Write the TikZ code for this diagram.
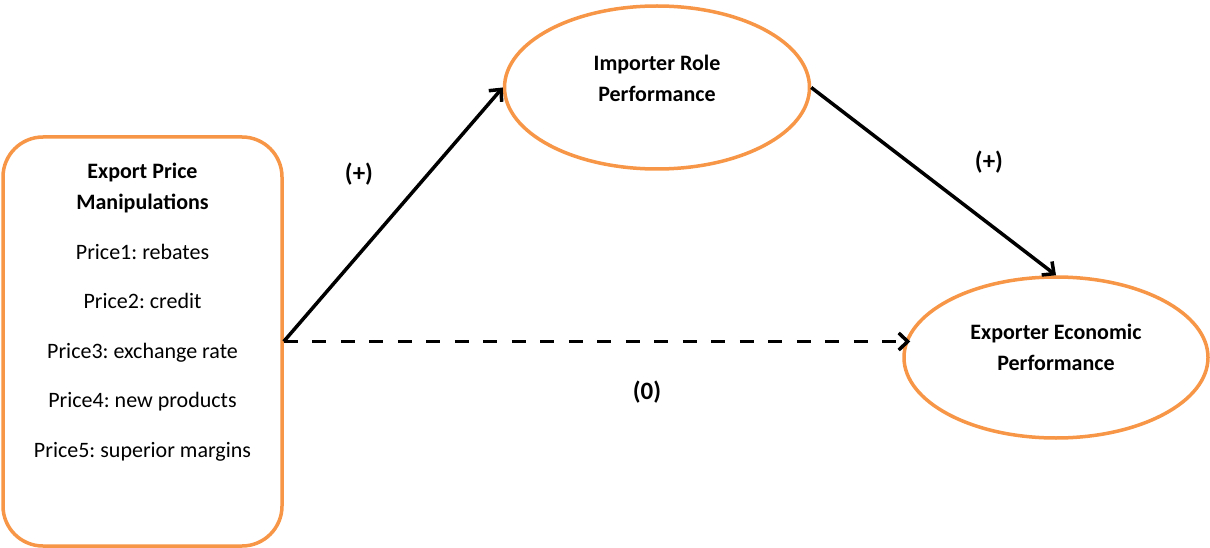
\documentclass[tikz,border=0pt]{standalone}
\usepackage{fontspec}
\setmainfont{Carlito}
\usepackage{xcolor}
\usepackage{tikz}
\usetikzlibrary{arrows.meta,positioning,shapes.geometric}
\definecolor{edge}{HTML}{F79646}
\definecolor{ink}{HTML}{000000}
\frenchspacing
\tikzset{
  pricebox/.style ={rounded corners=40pt,draw=edge,line width=3.5pt,fill=white,
                    minimum width=279pt,minimum height=409pt,inner sep=0pt},
  construct/.style={ellipse,draw=edge,line width=3.5pt,fill=white,
                    minimum width=305pt,minimum height=163pt,inner sep=0pt},
  caption/.style  ={align=center,font=\bfseries\fontsize{22}{31}\selectfont},
  itemtext/.style ={align=center,font=\fontsize{22}{31}\selectfont},
  sign/.style     ={font=\bfseries\fontsize{25}{28}\selectfont},
  flow/.style     ={-{Straight Barb[length=9pt,width=17pt]},line width=3.5pt,draw=ink},
  nullflow/.style ={flow,dash pattern=on 14pt off 14.5pt}
}

\begin{document}
\begin{tikzpicture}[x=1pt,y=-1pt]
        \useasboundingbox (0,0) rectangle (1210,548);
        % boxes
        \node[pricebox] (epm) at (142.5,341.5) {};
        \node[itemtext] (epmtext) at (142.5,312)
          {\textbf{Export Price}\\ \textbf{Manipulations}\\[18.5pt]
           Price1: rebates\\[18.5pt] Price2: credit\\[18.5pt]
           Price3: exchange rate\\[18.5pt] Price4: new products\\[18.5pt]
           Price5: superior margins};
        \node[construct] (irp) at (657,87.5) {};
        \node[caption] (irptext) at (657,78) {Importer Role\\ Performance};
        \node[construct,minimum width=304pt,minimum height=161pt] (eep) at (1056,357.5) {};
        \node[caption] (eeptext) at (1056,347) {Exporter Economic\\ Performance};
        % paths
        \draw[flow] (epm.east) -- (irp.west);
        \draw[flow] (irp.east) -- (eep.north);
        \draw[nullflow] (epm.east) -- ([xshift=8pt]epm.east -| eep.west);
        \node[sign] (plusa) at (359,174) {(+)};
        \node[sign] (plusb) at (989,162) {(+)};
        \node[sign] (zero) at (647,392) {(0)};
      \end{tikzpicture}
\end{document}
